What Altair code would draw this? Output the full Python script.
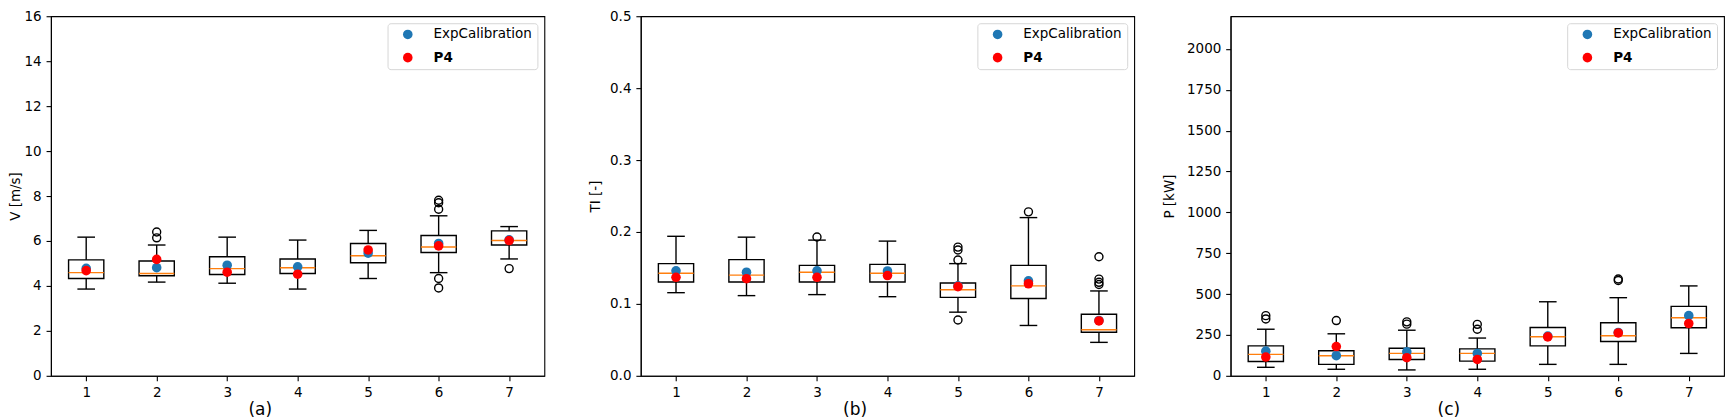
import altair as alt
import pandas as pd

cats = [1, 2, 3, 4, 5, 6, 7]
series_names = ["ExpCalibration", "P4"]
series_colors = ["#1f77b4", "#ff0000"]

# ---- panel (a): V [m/s]
V_lo = [3.86, 4.17, 4.12, 3.86, 4.33, 4.59, 5.20]
V_q1 = [4.33, 4.45, 4.51, 4.55, 5.03, 5.49, 5.82]
V_med = [4.59, 4.55, 4.77, 4.81, 5.34, 5.73, 6.02]
V_q3 = [5.16, 5.11, 5.30, 5.20, 5.89, 6.24, 6.45]
V_hi = [6.17, 5.82, 6.17, 6.04, 6.47, 7.12, 6.64]
V_fliers = [[], [6.14, 6.40], [], [], [], [3.91, 4.33, 7.41, 7.70, 7.81], [4.77]]
V_exp = [4.78, 4.81, 4.92, 4.85, 5.46, 5.89, 6.05]
V_p4 = [4.68, 5.18, 4.61, 4.52, 5.60, 5.78, 6.02]
V_ticks = [0, 2, 4, 6, 8, 10, 12, 14, 16]

# ---- panel (b): TI [-]
TI_lo = [0.1156, 0.1115, 0.1129, 0.110, 0.0885, 0.070, 0.0465]
TI_q1 = [0.1305, 0.1305, 0.1305, 0.1305, 0.109, 0.1075, 0.0605]
TI_med = [0.1427, 0.140, 0.144, 0.1427, 0.1197, 0.125, 0.064]
TI_q3 = [0.156, 0.1616, 0.1535, 0.1549, 0.129, 0.1535, 0.0857]
TI_hi = [0.194, 0.1928, 0.1887, 0.1873, 0.156, 0.220, 0.118]
TI_fliers = [[], [], [0.193], [], [0.0776, 0.161, 0.175, 0.179], [0.228],
             [0.127, 0.130, 0.1345, 0.1656]]
TI_exp = [0.146, 0.144, 0.146, 0.1458, 0.125, 0.132, 0.077]
TI_p4 = [0.137, 0.135, 0.137, 0.1394, 0.124, 0.128, 0.0763]
TI_ticks = [0.0, 0.1, 0.2, 0.3, 0.4, 0.5]

# ---- panel (c): P [kW]
P_lo = [52, 40, 36, 40, 70, 70, 137]
P_q1 = [88, 70, 100, 90, 183, 210, 294]
P_med = [131, 123, 137, 137, 239, 245, 355]
P_q3 = [183, 153, 169, 165, 296, 325, 425]
P_hi = [285, 257, 279, 231, 453, 478, 550]
P_fliers = [[348, 368], [338], [316, 330], [285, 315], [], [583, 592], []]
P_exp = [151, 123, 147, 137, 243, 265, 368]
P_p4 = [115, 179, 111, 100, 238, 262, 320]
P_ticks = [0, 250, 500, 750, 1000, 1250, 1500, 1750, 2000]

FONT = "DejaVu Sans"
BOX_W = 0.5
CAP_W = 0.25
W = 494
H = 360


def make_panel(lo, q1, med, q3, hi, fliers, exp, p4, ydom, yticks, yfmt,
               ytitle, xtitle, title_x, ext, tpad):
    boxes = pd.DataFrame({"pos": cats, "lo": lo, "q1": q1, "med": med,
                          "q3": q3, "hi": hi})
    boxes["bl"] = boxes["pos"] - BOX_W / 2
    boxes["br"] = boxes["pos"] + BOX_W / 2
    boxes["cl"] = boxes["pos"] - CAP_W / 2
    boxes["cr"] = boxes["pos"] + CAP_W / 2
    fl = pd.DataFrame([{"pos": c, "v": v} for c, vals in zip(cats, fliers) for v in vals])
    pts = pd.DataFrame({"pos": cats + cats, "v": exp + p4,
                        "series": [series_names[0]] * len(cats) + [series_names[1]] * len(cats)})

    xscale = alt.Scale(domain=[0.5, 7.5], nice=False, zero=False)
    yscale = alt.Scale(domain=ydom, nice=False, zero=False)
    xaxis = alt.Axis(values=cats, format="d", title=xtitle, titleX=title_x,
                     titleFontSize=17, titlePadding=2, labelFlush=False)
    yaxis = alt.Axis(values=yticks, format=yfmt, title=ytitle,
                     minExtent=ext, maxExtent=ext, titlePadding=tpad)

    def X(f):
        return alt.X(f, type="quantitative", scale=xscale, axis=xaxis)

    def Y(f):
        return alt.Y(f, type="quantitative", scale=yscale, axis=yaxis)

    bb = alt.Chart(boxes)
    rect = bb.mark_rect(fill="white", stroke="black", strokeWidth=1.4).encode(
        x=X("bl"), x2="br", y=Y("q1"), y2="q3")
    wh_up = bb.mark_rule(color="black", strokeWidth=1.4).encode(x=X("pos"), y=Y("q3"), y2="hi")
    wh_dn = bb.mark_rule(color="black", strokeWidth=1.4).encode(x=X("pos"), y=Y("lo"), y2="q1")
    cap_up = bb.mark_rule(color="black", strokeWidth=1.4).encode(x=X("cl"), x2="cr", y=Y("hi"))
    cap_dn = bb.mark_rule(color="black", strokeWidth=1.4).encode(x=X("cl"), x2="cr", y=Y("lo"))
    median = bb.mark_rule(color="#ff7f0e", strokeWidth=1.4).encode(x=X("bl"), x2="br", y=Y("med"))
    flier = alt.Chart(fl).mark_point(shape="circle", filled=False, color="black",
                                     size=64, strokeWidth=1.4, opacity=1).encode(
        x=X("pos"), y=Y("v"))
    dots = alt.Chart(pts).mark_circle(size=92, opacity=1).encode(
        x=X("pos"), y=Y("v"),
        color=alt.Color("series:N",
                        scale=alt.Scale(domain=series_names, range=series_colors),
                        legend=alt.Legend(
                            title=None, orient="top-right", offset=7,
                            fillColor="white", strokeColor="#d6d6d6", cornerRadius=3,
                            padding=4.5, rowPadding=8.2, symbolOffset=9, labelOffset=19,
                            symbolSize=92, symbolType="circle", symbolStrokeWidth=0,
                            labelFont=FONT, labelFontSize=13.5, labelColor="black",
                            labelFontWeight=alt.ExprRef("datum.label == 'P4' ? 'bold' : 'normal'"))))
    return alt.layer(rect, wh_up, wh_dn, cap_up, cap_dn, median, flier, dots).properties(
        width=W, height=H)


pa = make_panel(V_lo, V_q1, V_med, V_q3, V_hi, V_fliers, V_exp, V_p4, [0, 16], V_ticks, "d",
                "V [m/s]", "(a)", 209, 26.5, 1.5)
pb = make_panel(TI_lo, TI_q1, TI_med, TI_q3, TI_hi, TI_fliers, TI_exp, TI_p4, [0, 0.5], TI_ticks,
                ".1f", "TI [-]", "(b)", 214, 31.3, 7.3)
pc = make_panel(P_lo, P_q1, P_med, P_q3, P_hi, P_fliers, P_exp, P_p4, [0, 2200], P_ticks, "d",
                "P [kW]", "(c)", 218, 44.1, 9.9)

chart = alt.hconcat(pa, pb, pc, spacing=96.5, bounds="flush", padding=0).resolve_scale(
    color="independent").resolve_legend(color="independent").configure_view(
    stroke="black", strokeWidth=1.1).configure_axis(
    grid=False, tickColor="black", domainColor="black", domainWidth=1.1, tickWidth=1.1,
    tickSize=4.9, labelPadding=4.9, labelColor="black", titleColor="black",
    labelFont=FONT, labelFontSize=13.5, titleFont=FONT, titleFontSize=13.5,
    titleFontWeight="normal")

chart.save("out.html", embed_options={"renderer": "svg", "actions": False})
